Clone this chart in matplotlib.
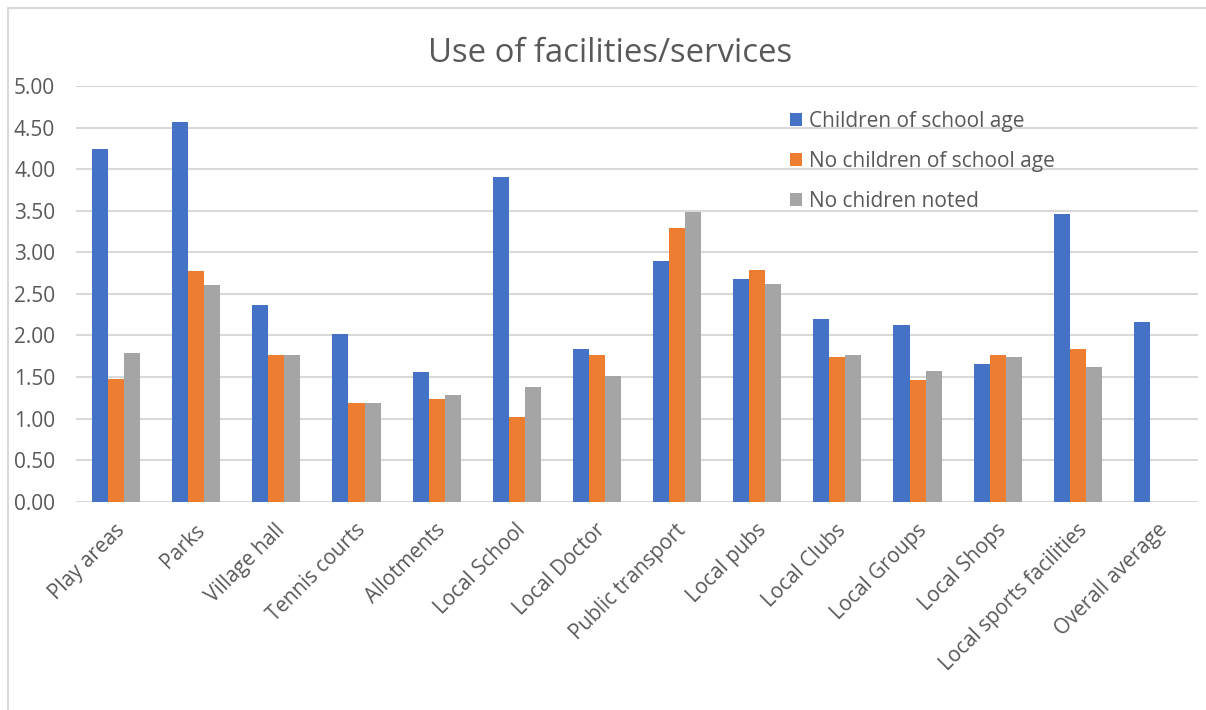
import numpy as np
import matplotlib
matplotlib.use("Agg")
import matplotlib.pyplot as plt
from matplotlib.lines import Line2D
from matplotlib.patches import Patch

plt.rcParams['font.family'] = ['Open Sans', 'DejaVu Sans']

categories = ["Play areas", "Parks", "Village hall", "Tennis courts", "Allotments",
              "Local School", "Local Doctor", "Public transport", "Local pubs",
              "Local Clubs", "Local Groups", "Local Shops",
              "Local sports facilities", "Overall average"]
with_children = [4.24, 4.57, 2.36, 2.02, 1.56, 3.90, 1.84, 2.89, 2.68, 2.20, 2.13, 1.66, 3.46, 2.16]
no_children = [1.47, 2.77, 1.77, 1.19, 1.24, 1.02, 1.77, 3.29, 2.79, 1.74, 1.46, 1.76, 1.84, np.nan]
not_noted = [1.79, 2.61, 1.77, 1.19, 1.28, 1.38, 1.51, 3.48, 2.62, 1.76, 1.57, 1.74, 1.62, np.nan]
series_names = ["Children of school age", "No children of school age", "No chidren noted"]
colors = ["#4472C4", "#ED7D31", "#A5A5A5"]
text_col = "#595959"
grid_col = "#D9D9D9"

fig = plt.figure(figsize=(12.06, 7.10), dpi=100)
ax = fig.add_axes([0.063, 0.2934, 0.9304, 0.5855])

x = np.arange(len(categories))
w = 0.2
for i, vals in enumerate([with_children, no_children, not_noted]):
    ax.bar(x + (i - 1) * w, vals, width=w, color=colors[i], zorder=3,
           label=series_names[i])

ax.set_xlim(-0.5, len(categories) - 0.5)
ax.set_ylim(0, 5)
ax.set_yticks(np.arange(0, 5.01, 0.5))
ax.set_yticklabels(["%.2f" % v for v in np.arange(0, 5.01, 0.5)])
ax.yaxis.grid(True, color=grid_col, linewidth=1.5, zorder=0)
ax.tick_params(axis='y', length=0, pad=15, labelsize=15, labelcolor=text_col)
ax.tick_params(axis='x', length=0, pad=13, labelsize=14.9, labelcolor=text_col)
ax.set_xticks(x - 0.02)
ax.set_xticklabels(categories, rotation=45, ha='right', va='top',
                   rotation_mode='anchor')
for s in ax.spines.values():
    s.set_visible(False)

fig.text(0.506, 0.925, "Use of facilities/services", ha='center', va='center',
         fontsize=23.7, color=text_col)

handles = [Patch(facecolor=c) for c in colors]
fig.legend(handles, series_names, loc='upper left', bbox_to_anchor=(0.655, 0.844),
           frameon=False, fontsize=15, labelcolor=text_col, handlelength=0.6,
           handleheight=0.6, handletextpad=0.3, labelspacing=0.92,
           borderaxespad=0, borderpad=0)

# chart area border
fig.add_artist(Line2D([0.0068, 0.0068], [0, 0.989], color=grid_col, lw=1.5))
fig.add_artist(Line2D([0.0068, 1], [0.989, 0.989], color=grid_col, lw=1.5))

fig.savefig("out.png", dpi=100)
